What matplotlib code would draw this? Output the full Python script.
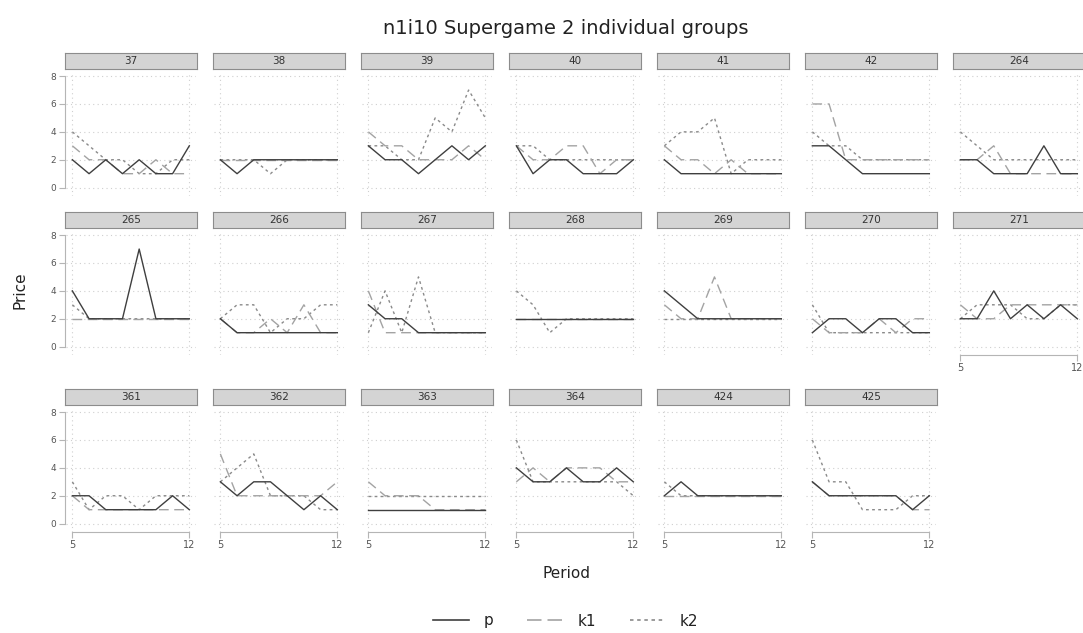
import matplotlib
matplotlib.use("Agg")
import matplotlib.pyplot as plt
from matplotlib.lines import Line2D

periods = list(range(5, 13))

groups = ["37", "38", "39", "40", "41", "42", "264",
          "265", "266", "267", "268", "269", "270", "271",
          "361", "362", "363", "364", "424", "425"]

p = [
    [2, 1, 2, 1, 2, 1, 1, 3],
    [2, 1, 2, 2, 2, 2, 2, 2],
    [3, 2, 2, 1, 2, 3, 2, 3],
    [3, 1, 2, 2, 1, 1, 1, 2],
    [2, 1, 1, 1, 1, 1, 1, 1],
    [3, 3, 2, 1, 1, 1, 1, 1],
    [2, 2, 1, 1, 1, 3, 1, 1],
    [4, 2, 2, 2, 7, 2, 2, 2],
    [2, 1, 1, 1, 1, 1, 1, 1],
    [3, 2, 2, 1, 1, 1, 1, 1],
    [2, 2, 2, 2, 2, 2, 2, 2],
    [4, 3, 2, 2, 2, 2, 2, 2],
    [1, 2, 2, 1, 2, 2, 1, 1],
    [2, 2, 4, 2, 3, 2, 3, 2],
    [2, 2, 1, 1, 1, 1, 2, 1],
    [3, 2, 3, 3, 2, 1, 2, 1],
    [1, 1, 1, 1, 1, 1, 1, 1],
    [4, 3, 3, 4, 3, 3, 4, 3],
    [2, 3, 2, 2, 2, 2, 2, 2],
    [3, 2, 2, 2, 2, 2, 1, 2],
]

k1 = [
    [3, 2, 2, 1, 1, 2, 1, 1],
    [2, 2, 2, 2, 2, 2, 2, 2],
    [4, 3, 3, 2, 2, 2, 3, 2],
    [3, 2, 2, 3, 3, 1, 2, 2],
    [3, 2, 2, 1, 2, 1, 1, 1],
    [6, 6, 2, 2, 2, 2, 2, 2],
    [2, 2, 3, 1, 1, 1, 1, 1],
    [2, 2, 2, 2, 2, 2, 2, 2],
    [2, 1, 1, 2, 1, 3, 1, 1],
    [4, 1, 1, 1, 1, 1, 1, 1],
    [2, 2, 2, 2, 2, 2, 2, 2],
    [3, 2, 2, 5, 2, 2, 2, 2],
    [2, 1, 1, 1, 2, 1, 2, 2],
    [3, 2, 2, 3, 3, 3, 3, 3],
    [2, 1, 1, 1, 1, 1, 1, 1],
    [5, 2, 2, 2, 2, 2, 2, 3],
    [3, 2, 2, 2, 1, 1, 1, 1],
    [3, 4, 3, 4, 4, 4, 3, 3],
    [2, 2, 2, 2, 2, 2, 2, 2],
    [3, 2, 2, 2, 2, 2, 1, 1],
]

k2 = [
    [4, 3, 2, 2, 1, 1, 2, 2],
    [2, 2, 2, 1, 2, 2, 2, 2],
    [3, 3, 2, 2, 5, 4, 7, 5],
    [3, 3, 2, 2, 2, 2, 2, 2],
    [3, 4, 4, 5, 1, 2, 2, 2],
    [4, 3, 3, 2, 2, 2, 2, 2],
    [4, 3, 2, 2, 2, 2, 2, 2],
    [3, 2, 2, 2, 2, 2, 2, 2],
    [2, 3, 3, 1, 2, 2, 3, 3],
    [1, 4, 1, 5, 1, 1, 1, 1],
    [4, 3, 1, 2, 2, 2, 2, 2],
    [2, 2, 2, 2, 2, 2, 2, 2],
    [3, 1, 1, 1, 1, 1, 1, 1],
    [2, 3, 3, 3, 2, 2, 3, 3],
    [3, 1, 2, 2, 1, 2, 2, 2],
    [3, 4, 5, 2, 2, 2, 1, 1],
    [2, 2, 2, 2, 2, 2, 2, 2],
    [6, 3, 3, 3, 3, 3, 3, 2],
    [3, 2, 2, 2, 2, 2, 2, 2],
    [6, 3, 3, 1, 1, 1, 2, 2],
]

W, H = 1083, 633
ncols = 7

P_COLOR = "#3f3f3f"
K1_COLOR = "#a3a3a3"
K2_COLOR = "#8a8a8a"
AXIS_COLOR = "#b5b5b5"
GRID_COLOR = "#cfcfcf"

K1_DASH = (0, (7, 4))
K2_DASH = (0, (2, 2.4))

fig = plt.figure(figsize=(W / 100, H / 100), dpi=100)
fig.patch.set_facecolor("white")


def rect(x, top, w, h):
    # pixel box (top-left origin) -> figure fraction
    return [x / W, 1 - (top + h) / H, w / W, h / H]


col_x = [66 + 148 * i for i in range(ncols)]
row_top = [74, 233, 410]
pw, ph = 130, 122
strip_h = 16
strip_gap = 5

for i, g in enumerate(groups):
    r, c = divmod(i, ncols)
    x0, t0 = col_x[c], row_top[r]
    ax = fig.add_axes(rect(x0, t0, pw, ph))
    ax.set_xlim(4.62, 12.4)
    ax.set_ylim(-0.6, 8.15)

    for y in [0, 2, 4, 6, 8]:
        ax.axhline(y, color=GRID_COLOR, lw=0.8, ls=(0, (1, 3)), zorder=0)
    for x in [5, 12]:
        ax.axvline(x, color=GRID_COLOR, lw=0.8, ls=(0, (1, 3)), zorder=0)

    ax.plot(periods, k2[i], color=K2_COLOR, ls=K2_DASH, lw=1.0)
    ax.plot(periods, k1[i], color=K1_COLOR, ls=K1_DASH, lw=1.0)
    ax.plot(periods, p[i], color=P_COLOR, ls="-", lw=1.0)

    for s in ax.spines.values():
        s.set_visible(False)

    # x axis only under the last panel of each column
    show_x = (r == 2) or (r == 1 and c == ncols - 1)
    if show_x:
        ax.spines["bottom"].set_visible(True)
        ax.spines["bottom"].set_color(AXIS_COLOR)
        ax.spines["bottom"].set_bounds(5, 12)
        ax.set_xticks([5, 12])
        ax.tick_params(axis="x", colors=AXIS_COLOR, labelcolor="#555555",
                       labelsize=7, length=4, width=0.8, pad=2)
    else:
        ax.set_xticks([])

    if c == 0:
        ax.spines["left"].set_visible(True)
        ax.spines["left"].set_color(AXIS_COLOR)
        ax.spines["left"].set_bounds(0, 8)
        ax.spines["left"].set_position(("outward", 1))
        ax.set_yticks([0, 2, 4, 6, 8])
        ax.tick_params(axis="y", colors=AXIS_COLOR, labelcolor="#555555",
                       labelsize=6.5, length=4, width=0.8, pad=2)
    else:
        ax.set_yticks([])

    sax = fig.add_axes(rect(x0 - 1, t0 - strip_gap - strip_h, pw + 2, strip_h))
    sax.set_facecolor("#d4d4d4")
    sax.set_xticks([])
    sax.set_yticks([])
    for s in sax.spines.values():
        s.set_color("#8c8c8c")
        s.set_linewidth(0.8)
    sax.text(0.5, 0.5, g, ha="center", va="center", fontsize=7.5,
             color="#333333", transform=sax.transAxes)

fig.text(566 / W, 1 - 28 / H, "n1i10 Supergame 2 individual groups",
         ha="center", va="center", fontsize=14, color="#222222")
fig.text(20 / W, 1 - 290 / H, "Price", ha="center", va="center",
         rotation=90, fontsize=11, color="#222222")
fig.text(566 / W, 1 - 573 / H, "Period", ha="center", va="center",
         fontsize=11, color="#222222")

# legend keys: two long dashes for k1, five short dots for k2
handles = [
    Line2D([], [], color=P_COLOR, lw=1.2, ls="-"),
    Line2D([], [], color=K1_COLOR, lw=1.2, ls=(0, (8.7, 3.6))),
    Line2D([], [], color=K2_COLOR, lw=1.2, ls=(0, (2.1, 2.2))),
]
fig.legend(handles, ["p", "k1", "k2"], loc="center",
           bbox_to_anchor=(566 / W, 1 - 621 / H), ncol=3, frameon=False,
           fontsize=11, handlelength=2.3, columnspacing=2.2,
           handletextpad=1.0, labelcolor="#222222")

fig.savefig("out.png", dpi=100, facecolor="white")
